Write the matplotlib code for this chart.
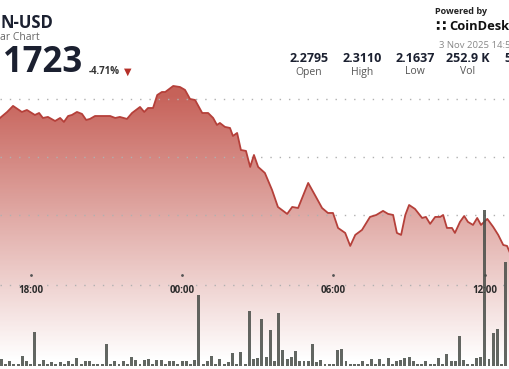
import matplotlib.pyplot as plt
import numpy as np

# price line, minutes from 00:00 (3 Nov) and price in USD
price_min = [-433, -416, -402, -381, -369, -350, -340, -331, -319, -302,
             -290, -281, -271, -262, -250, -238, -228, -219, -207, -195,
             -171, -159, -148, -131, -119, -100, -90, -81, -69, -59,
             -48, -40, -21, -5, 7, 19, 31, 48, 62, 74,
             83, 90, 102, 114, 121, 131, 140, 152, 162, 171,
             181, 197, 214, 228, 250, 262, 276, 300, 316, 333,
             347, 359, 371, 388, 400, 412, 428, 447, 462, 478,
             490, 502, 511, 521, 531, 540, 554, 571, 580, 590,
             602, 614, 621, 630, 642, 649, 661, 671, 680, 692,
             702, 711, 726, 740, 752, 764, 773, 780]
price = [2.2836, 2.2888, 2.2940, 2.2888, 2.2905, 2.2862, 2.2879, 2.2836, 2.2845, 2.2810,
         2.2836, 2.2802, 2.2853, 2.2862, 2.2888, 2.2871, 2.2819, 2.2828, 2.2853, 2.2853,
         2.2853, 2.2836, 2.2845, 2.2828, 2.2879, 2.2931, 2.2888, 2.2922, 2.2922, 2.3034,
         2.3060, 2.3060, 2.3112, 2.3103, 2.3078, 2.3000, 2.2991, 2.2879, 2.2879, 2.2836,
         2.2776, 2.2793, 2.2759, 2.2750, 2.2681, 2.2707, 2.2560, 2.2552, 2.2414, 2.2517,
         2.2414, 2.2362, 2.2216, 2.2069, 2.2009, 2.2069, 2.2060, 2.2276, 2.2172, 2.2060,
         2.2017, 2.2017, 2.1888, 2.1845, 2.1733, 2.1828, 2.1871, 2.1983, 2.2000, 2.2035,
         2.2009, 2.2000, 2.1845, 2.1828, 2.2000, 2.2086, 2.2052, 2.1974, 2.1983, 2.1923,
         2.1983, 2.1983, 2.2000, 2.1888, 2.1888, 2.1845, 2.1940, 2.1991, 2.1940, 2.1914,
         2.1974, 2.1914, 2.1966, 2.1897, 2.1828, 2.1741, 2.1733, 2.1672]

# 10 minute volume slots (slot * 10 = minutes from 00:00)
vol_slot = list(range(-43, 78))
vol = [7, 2, 5, 2, 2, 10, 5, 2, 34, 2,
       6, 2, 4, 2, 4, 2, 5, 2, 8, 2,
       5, 5, 2, 2, 2, 22, 2, 5, 2, 5,
       2, 9, 6, 2, 6, 7, 2, 6, 6, 2,
       5, 5, 2, 5, 5, 2, 6, 72, 2, 5,
       10, 2, 7, 2, 4, 13, 2, 14, 2, 55,
       7, 8, 47, 9, 36, 5, 53, 16, 7, 9,
       15, 5, 5, 5, 22, 4, 6, 2, 2, 2,
       16, 17, 5, 2, 2, 2, 5, 2, 7, 2,
       7, 2, 8, 2, 5, 6, 8, 9, 5, 2,
       2, 5, 2, 2, 8, 2, 12, 5, 5, 30,
       6, 2, 2, 8, 9, 157, 7, 33, 37, 2,
       105]

grid_prices = [2.30, 2.25, 2.20, 2.1397]
tick_min = [-360, 0, 360, 720]
tick_labels = ['18:00', '00:00', '06:00', '12:00']

stat_values = ['2.2795', '2.3110', '2.1637', '252.9 K', '56']
stat_labels = ['Open', 'High', 'Low', 'Vol', 'V']

plt.rcParams['font.family'] = ['Open Sans', 'DejaVu Sans']

W, H = 510, 369
fig = plt.figure(figsize=(W / 100, H / 100), dpi=100)
ax = fig.add_axes([0, 0, 1, 1])
xlo, xhi = -433, 780
ylo, yhi = 2.0672, 2.3853
ax.set_xlim(xlo, xhi)
ax.set_ylim(ylo, yhi)
ax.axis('off')

# gradient fill under the line
rows = np.arange(H)
alpha = np.clip(0.82 - 0.0031 * (rows - 95), 0, 0.82)
img = np.zeros((H, 1, 4))
img[..., 0] = 0.73
img[..., 1] = 0.25
img[..., 2] = 0.21
img[:, 0, 3] = alpha
im = ax.imshow(img, extent=[xlo, xhi, ylo, yhi], aspect='auto', origin='upper',
               interpolation='bilinear', zorder=1)
poly = ax.fill_between(price_min, price, ylo, color='none', lw=0)
im.set_clip_path(poly.get_paths()[0], transform=ax.transData)

for g in grid_prices:
    ax.axhline(g, color='#b0b0b0', lw=1, ls=(0, (1, 5.7)), zorder=2)

ax.plot(price_min, price, color='#b5403a', lw=1.3, zorder=3)

for tm, lab in zip(tick_min, tick_labels):
    ax.plot([tm], [0.255], transform=ax.get_xaxis_transform(), marker='o', ms=1,
            color='#555555', zorder=3)
    ax.text(tm, 0.214, lab, transform=ax.get_xaxis_transform(), ha='center',
            va='center', fontsize=7, fontweight='bold', color='#2b2b2b', zorder=3)

# volume bars
axv = fig.add_axes([0, 0, 1, 1], sharex=ax)
axv.set_ylim(-3, H)
axv.axis('off')
axv.patch.set_visible(False)
axv.bar(np.array(vol_slot) * 10, vol, width=7, color='#474c47', alpha=0.85, lw=0)


def px(x, y):
    return x / W, 1 - y / H


dark = '#1b2030'
fig.text(*px(0, 23), 'N-USD', fontsize=12, fontweight='bold', color=dark, va='center')
fig.text(*px(0, 37), 'ar Chart', fontsize=7.5, color='#666666', va='center')
fig.text(*px(3, 63), '1723', fontsize=25, fontweight='bold', color=dark, va='center')
fig.text(*px(89, 72), '-4.71%', fontsize=7, fontweight='bold', color='#333333', va='center')
fig.text(*px(128, 72), '\u25bc', fontsize=7, color='#b52f28', va='center', ha='center',
         family=['DejaVu Sans'])

fig.text(*px(435, 11), 'Powered by', fontsize=6.5, fontweight='bold', color='#222222', va='center')
fig.text(*px(435, 27), '\u2237', fontsize=11, fontweight='bold', color='#111111', va='center',
         family=['DejaVu Sans'])
fig.text(*px(449, 27), 'CoinDesk', fontsize=9.3, fontweight='bold', color='#111111', va='center')
fig.text(*px(439, 45), '3 Nov 2025 14:56', fontsize=6.8, color='#888888', va='center')

stat_x = [309, 362, 415, 468, 512]
for sx, v, lab in zip(stat_x, stat_values, stat_labels):
    fig.text(*px(sx, 58), v, fontsize=9, fontweight='bold', color=dark, ha='center', va='center')
    fig.text(*px(sx, 72), lab, fontsize=7.5, color='#555555', ha='center', va='center')

fig.savefig('out.png', dpi=100)
